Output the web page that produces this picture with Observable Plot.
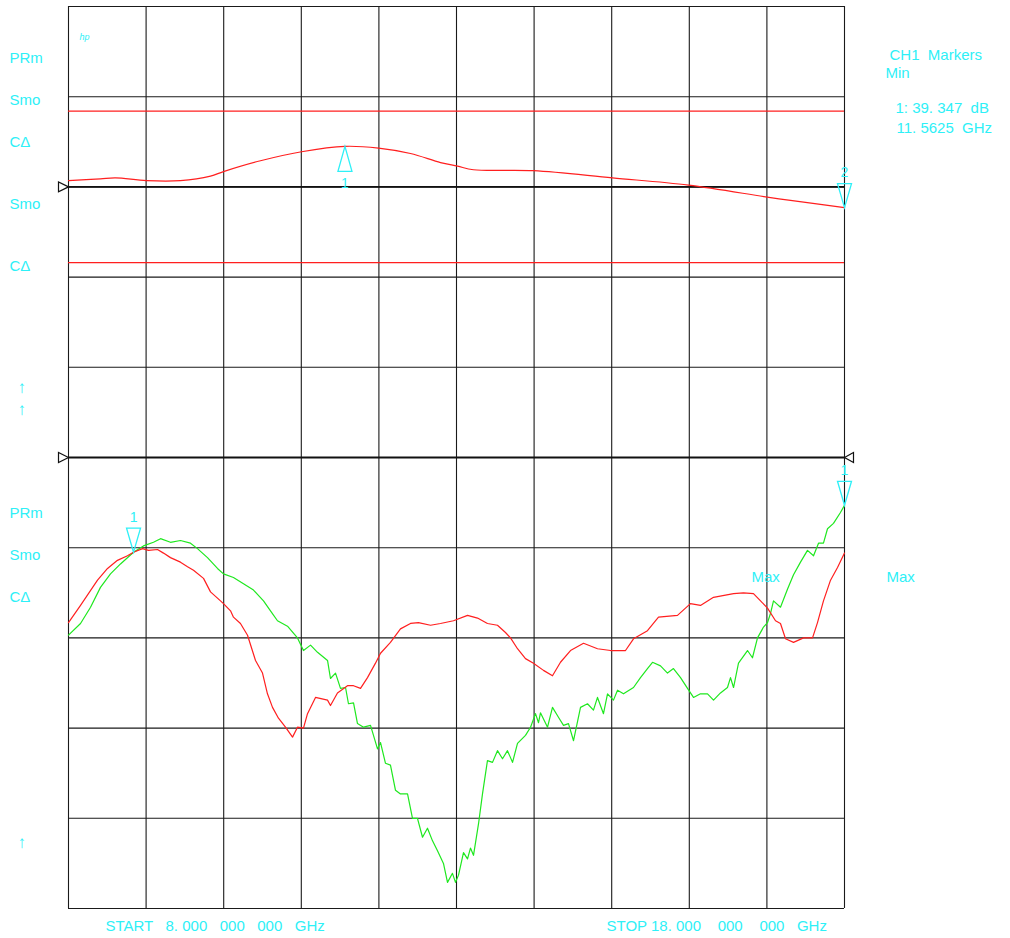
<!DOCTYPE html>
<html>
<head>
<meta charset="utf-8">
<script src="https://cdn.jsdelivr.net/npm/d3@7"></script>
<script src="https://cdn.jsdelivr.net/npm/@observablehq/plot@0.6"></script>
<style>
  html, body { margin: 0; padding: 0; background: #fff; }
  #chart svg { display: block; }
</style>
</head>
<body>
<div id="chart"></div>
<script>
// ---- data (x: frequency in GHz, y: screen divisions, 0 = bottom graticule line) ----
const gridFreqs = [8, 9, 10, 11, 12, 13, 14, 15, 16, 17, 18];
const gridDivs = [0, 1, 2, 3, 4, 5, 6, 7, 8, 9, 10];
const referenceDivs = [8, 5];
const limitDivs = [8.84, 7.16];

// Channel 1 (upper, smoothed) trace
const upperFreq = [8.000, 8.412, 8.606, 9.005, 9.443, 9.830, 9.997, 10.474, 11.003, 11.5625, 11.995, 12.407, 12.794, 13.013, 13.219, 13.992, 15.010, 15.990, 16.982, 17.304, 18.000];
const upperVal  = [8.07, 8.09, 8.10, 8.07, 8.07, 8.12, 8.17, 8.29, 8.39, 8.45, 8.43, 8.37, 8.27, 8.23, 8.19, 8.18, 8.10, 8.02, 7.89, 7.85, 7.77];

// Channel 2, red trace
const redFreq = [8.000, 8.155, 8.374, 8.503, 8.631, 8.760, 8.838, 8.954, 9.031, 9.147, 9.224, 9.314, 9.443, 9.534, 9.611, 9.740, 9.830, 9.959, 9.997, 10.088, 10.126, 10.216, 10.307, 10.410, 10.500, 10.564, 10.629, 10.706, 10.796, 10.887, 10.951, 11.028, 11.080, 11.183, 11.338, 11.376, 11.466, 11.595, 11.673, 11.763, 11.853, 11.956, 12.021, 12.149, 12.278, 12.407, 12.510, 12.665, 12.794, 12.961, 13.142, 13.271, 13.399, 13.528, 13.631, 13.696, 13.786, 13.889, 13.992, 14.121, 14.237, 14.340, 14.469, 14.637, 14.817, 14.985, 15.075, 15.178, 15.281, 15.461, 15.603, 15.848, 16.015, 16.144, 16.312, 16.570, 16.698, 16.827, 16.918, 17.008, 17.111, 17.175, 17.240, 17.343, 17.472, 17.588, 17.652, 17.729, 17.820, 17.910, 18.000];
const redVal  = [3.17, 3.36, 3.64, 3.77, 3.86, 3.91, 3.95, 3.99, 3.97, 3.98, 3.94, 3.89, 3.84, 3.79, 3.75, 3.66, 3.51, 3.41, 3.38, 3.30, 3.23, 3.16, 3.03, 2.75, 2.61, 2.38, 2.23, 2.11, 2.01, 1.90, 2.01, 2.00, 2.16, 2.34, 2.31, 2.25, 2.39, 2.47, 2.47, 2.44, 2.56, 2.72, 2.83, 2.95, 3.10, 3.16, 3.17, 3.14, 3.16, 3.19, 3.25, 3.22, 3.16, 3.14, 3.06, 3.00, 2.88, 2.77, 2.72, 2.64, 2.58, 2.73, 2.86, 2.94, 2.88, 2.86, 2.86, 2.86, 2.99, 3.08, 3.23, 3.25, 3.38, 3.36, 3.45, 3.49, 3.50, 3.49, 3.41, 3.33, 3.19, 3.16, 2.99, 2.95, 3.00, 3.00, 3.17, 3.41, 3.64, 3.78, 3.94];

// Channel 2, green trace
const greenFreq = [8.000, 8.155, 8.284, 8.412, 8.541, 8.670, 8.838, 8.966, 9.095, 9.186, 9.314, 9.443, 9.572, 9.662, 9.791, 9.920, 9.997, 10.126, 10.255, 10.384, 10.513, 10.603, 10.693, 10.822, 10.951, 11.028, 11.119, 11.209, 11.338, 11.376, 11.441, 11.505, 11.570, 11.608, 11.673, 11.724, 11.802, 11.892, 11.982, 12.021, 12.085, 12.149, 12.214, 12.278, 12.369, 12.433, 12.497, 12.562, 12.626, 12.691, 12.755, 12.832, 12.884, 12.948, 12.987, 13.026, 13.090, 13.142, 13.180, 13.219, 13.284, 13.335, 13.399, 13.464, 13.528, 13.593, 13.657, 13.722, 13.786, 13.889, 13.954, 14.018, 14.057, 14.082, 14.173, 14.237, 14.314, 14.379, 14.443, 14.508, 14.598, 14.688, 14.765, 14.817, 14.894, 14.946, 15.023, 15.075, 15.152, 15.281, 15.371, 15.461, 15.526, 15.629, 15.719, 15.796, 15.887, 15.977, 16.054, 16.144, 16.235, 16.312, 16.402, 16.492, 16.531, 16.570, 16.634, 16.750, 16.814, 16.879, 16.956, 17.008, 17.046, 17.085, 17.175, 17.265, 17.343, 17.433, 17.523, 17.601, 17.665, 17.729, 17.781, 17.858, 17.948, 18.000];
const greenVal  = [3.03, 3.16, 3.34, 3.56, 3.71, 3.82, 3.95, 4.02, 4.06, 4.10, 4.06, 4.08, 4.05, 3.99, 3.89, 3.77, 3.71, 3.67, 3.60, 3.53, 3.41, 3.30, 3.19, 3.13, 3.00, 2.86, 2.92, 2.84, 2.75, 2.55, 2.61, 2.44, 2.45, 2.27, 2.28, 2.05, 2.01, 2.03, 1.77, 1.84, 1.61, 1.59, 1.31, 1.27, 1.27, 1.00, 1.00, 0.79, 0.89, 0.75, 0.64, 0.50, 0.29, 0.39, 0.29, 0.37, 0.62, 0.55, 0.67, 0.59, 0.94, 1.27, 1.64, 1.62, 1.75, 1.66, 1.75, 1.62, 1.83, 1.92, 2.01, 2.16, 2.06, 2.17, 2.01, 2.23, 2.12, 2.03, 2.05, 1.86, 2.23, 2.27, 2.20, 2.34, 2.16, 2.38, 2.31, 2.42, 2.38, 2.45, 2.56, 2.66, 2.73, 2.69, 2.61, 2.66, 2.56, 2.44, 2.34, 2.38, 2.38, 2.31, 2.39, 2.45, 2.56, 2.45, 2.72, 2.86, 2.78, 3.00, 3.12, 3.17, 3.27, 3.41, 3.34, 3.54, 3.70, 3.84, 3.97, 3.91, 4.05, 4.05, 4.21, 4.27, 4.39, 4.47];

// Markers
const upMarkers   = [{f: 11.5625, v: 8.45, label: "1"}];
const downMarkers = [{f: 18.0, v: 7.77, label: "2"}, {f: 8.838, v: 3.95, label: "1"}, {f: 18.0, v: 4.47, label: "1"}];

// ---- build ----
const zip = (fs, vs) => fs.map((f, i) => ({f, v: vs[i]}));
const upper = zip(upperFreq, upperVal);
const red = zip(redFreq, redVal);
const green = zip(greenFreq, greenVal);

const CYAN = "#2ef0f7";
const RED = "#ff1f1f";
const GREEN = "#1fe81f";

const triDown = {draw(ctx) { ctx.moveTo(0, 0); ctx.lineTo(-7, -24); ctx.lineTo(7, -24); ctx.closePath(); }};
const triUp   = {draw(ctx) { ctx.moveTo(0, 0); ctx.lineTo(-7, 25); ctx.lineTo(7, 25); ctx.closePath(); }};
const refRight = {draw(ctx) { ctx.moveTo(0, 0); ctx.lineTo(-10, -5); ctx.lineTo(-10, 5); ctx.closePath(); }};
const refLeft  = {draw(ctx) { ctx.moveTo(0, 0); ctx.lineTo(9, -5); ctx.lineTo(9, 5); ctx.closePath(); }};

const ML = 68, MT = 6;
const label = (text, px, py, opts = {}) => Plot.text([text], {
  frameAnchor: "top-left", dx: px - ML, dy: py - MT, textAnchor: "start", lineAnchor: "middle",
  fill: CYAN, fontSize: 15, ...opts
});

const chart = Plot.plot({
  width: 1010, height: 938,
  marginLeft: ML, marginRight: 166, marginTop: MT, marginBottom: 30,
  x: {type: "linear", domain: [8, 18], axis: null},
  y: {type: "linear", domain: [0, 10], axis: null},
  style: {fontFamily: "'Liberation Sans', Arial, sans-serif", background: "#fff", whiteSpace: "pre"},
  marks: [
    Plot.ruleX(gridFreqs, {stroke: "#1a1a1a", strokeWidth: 1.1}),
    Plot.ruleY(gridDivs, {stroke: "#1a1a1a", strokeWidth: 1.1}),
    Plot.ruleY(referenceDivs, {stroke: "#111", strokeWidth: 1.8}),
    Plot.ruleY(limitDivs, {stroke: RED, strokeWidth: 1.2}),
    Plot.line(upper, {x: "f", y: "v", stroke: RED, strokeWidth: 1.2, curve: "catmull-rom"}),
    Plot.line(green, {x: "f", y: "v", stroke: GREEN, strokeWidth: 1.2}),
    Plot.line(red, {x: "f", y: "v", stroke: RED, strokeWidth: 1.2}),
    // reference position triangles
    Plot.dot(referenceDivs, {x: () => 8, y: d => d, symbol: refRight, fill: "none", stroke: "#111", strokeWidth: 1.2}),
    Plot.dot([referenceDivs[1]], {x: () => 18, y: d => d, symbol: refLeft, fill: "none", stroke: "#111", strokeWidth: 1.2}),
    // markers
    Plot.dot(upMarkers, {x: "f", y: "v", symbol: triUp, fill: "none", stroke: CYAN, strokeWidth: 1.3}),
    Plot.text(upMarkers, {x: "f", y: "v", text: "label", dy: 37, fill: CYAN, fontSize: 14}),
    Plot.dot(downMarkers, {x: "f", y: "v", symbol: triDown, fill: "none", stroke: CYAN, strokeWidth: 1.3}),
    Plot.text(downMarkers, {x: "f", y: "v", text: "label", dy: -35, fill: CYAN, fontSize: 14}),
    // annotations
    label("hp", 79, 37, {fontSize: 9, fontStyle: "italic"}),
    label("PRm", 9, 58),
    label("Smo", 9, 100),
    label("C\u0394", 9, 142),
    label("Smo", 9, 204),
    label("C\u0394", 9, 266),
    label("\u2191", 17, 387, {fontWeight: "bold", fontSize: 17}),
    label("\u2191", 17, 409, {fontWeight: "bold", fontSize: 17}),
    label("PRm", 9, 513),
    label("Smo", 9, 555),
    label("C\u0394", 9, 597),
    label("\u2191", 17, 842, {fontWeight: "bold", fontSize: 17}),
    label("CH1  Markers", 889, 55),
    label("Min", 885, 73),
    label("1: 39. 347  dB", 895, 108),
    label("11. 5625  GHz", 896, 128),
    label("Max", 751, 577),
    label("Max", 886, 577),
    label("START   8. 000   000   000   GHz", 105, 926),
    label("STOP 18. 000    000    000   GHz", 606, 926)
  ]
});
document.getElementById("chart").append(chart);
</script>
</body>
</html>
